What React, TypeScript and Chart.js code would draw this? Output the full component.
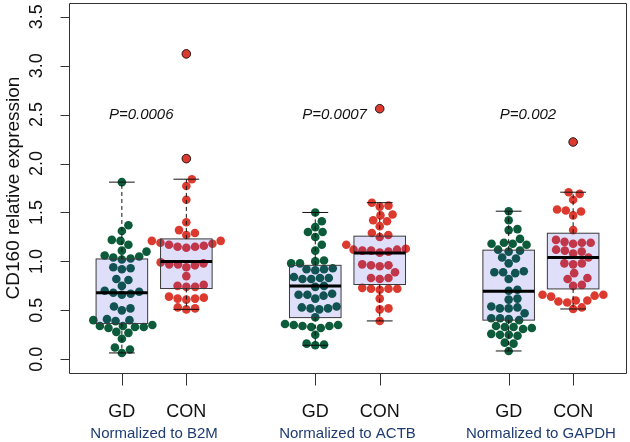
import React, { useEffect, useRef } from 'react';
import { Chart, registerables } from 'chart.js';

Chart.register(...registerables);

// ---------- data ----------
const groupPositions = [1, 2, 4, 5, 7, 8];
const groupNames = ['GD', 'CON', 'GD', 'CON', 'GD', 'CON'];
const normLabels = ['Normalized to B2M', 'Normalized to ACTB', 'Normalized to GAPDH'];
const normLabelX = [1.5, 4.5, 7.5];
const pLabels = ['P=0.0006', 'P=0.0007', 'P=0.002'];
const pLabelX = [1.3, 4.3, 7.3];
const pLabelY = 2.5;
const yTicks = [0, 0.5, 1, 1.5, 2, 2.5, 3, 3.5];
const yTickLabels = ['0.0', '0.5', '1.0', '1.5', '2.0', '2.5', '3.0', '3.5'];
const yTitle = 'CD160 relative expression';

const gdB2M = [1.81, 1.37, 1.31, 1.22, 1.21, 1.17, 1.11, 1.10, 1.06, 1.05, 1.04, 1.03, 1.02, 0.94, 0.93, 0.92, 0.82, 0.81, 0.75, 0.70, 0.69, 0.68, 0.67, 0.66, 0.54, 0.52, 0.50, 0.41, 0.40, 0.40, 0.39, 0.35, 0.34, 0.34, 0.33, 0.33, 0.32, 0.28, 0.27, 0.21, 0.12, 0.10, 0.065];
const conB2M = [3.12, 2.05, 1.84, 1.77, 1.63, 1.40, 1.32, 1.29, 1.27, 1.21, 1.21, 1.19, 1.18, 1.17, 1.16, 1.15, 1.15, 1.14, 0.99, 0.98, 0.97, 0.97, 0.96, 0.94, 0.85, 0.76, 0.75, 0.74, 0.74, 0.64, 0.63, 0.62, 0.62, 0.61, 0.53, 0.52, 0.51];
const gdACTB = [1.50, 1.41, 1.35, 1.30, 1.30, 1.25, 1.17, 1.11, 1.01, 1.00, 0.98, 0.98, 0.93, 0.92, 0.92, 0.91, 0.84, 0.83, 0.83, 0.82, 0.82, 0.75, 0.74, 0.67, 0.66, 0.66, 0.65, 0.62, 0.54, 0.53, 0.52, 0.52, 0.51, 0.43, 0.36, 0.35, 0.35, 0.34, 0.34, 0.33, 0.32, 0.25, 0.16, 0.15, 0.143];
const conACTB = [2.56, 1.60, 1.57, 1.56, 1.48, 1.47, 1.42, 1.41, 1.36, 1.29, 1.27, 1.25, 1.17, 1.13, 1.12, 1.12, 1.11, 1.11, 1.10, 1.09, 0.97, 0.96, 0.96, 0.95, 0.89, 0.83, 0.83, 0.82, 0.73, 0.72, 0.72, 0.72, 0.71, 0.62, 0.52, 0.51, 0.392];
const gdGAPDH = [1.513, 1.42, 1.33, 1.32, 1.23, 1.19, 1.18, 1.18, 1.17, 1.12, 1.11, 1.10, 1.04, 1.03, 0.98, 0.90, 0.89, 0.89, 0.88, 0.82, 0.71, 0.70, 0.62, 0.61, 0.54, 0.53, 0.52, 0.52, 0.47, 0.42, 0.42, 0.41, 0.40, 0.34, 0.33, 0.33, 0.32, 0.31, 0.26, 0.25, 0.25, 0.24, 0.17, 0.16, 0.085];
const conGAPDH = [2.22, 1.707, 1.69, 1.63, 1.53, 1.52, 1.51, 1.47, 1.32, 1.22, 1.20, 1.19, 1.19, 1.18, 1.12, 1.11, 1.10, 1.08, 1.04, 0.98, 0.98, 0.97, 0.88, 0.83, 0.82, 0.76, 0.75, 0.66, 0.66, 0.65, 0.64, 0.60, 0.60, 0.59, 0.58, 0.53, 0.514];

const seriesList = [gdB2M, conB2M, gdACTB, conACTB, gdGAPDH, conGAPDH];

// box statistics
const boxLow = [0.065, 0.51, 0.143, 0.392, 0.085, 0.514];
const boxQ1 = [0.365, 0.723, 0.426, 0.764, 0.40, 0.719];
const boxMed = [0.68, 1.0, 0.75, 1.087, 0.695, 1.04];
const boxQ3 = [1.025, 1.23, 0.96, 1.258, 1.115, 1.288];
const boxHigh = [1.81, 1.84, 1.50, 1.60, 1.513, 1.707];

// ---------- styles ----------
const GD_COLOR = '#0c5b3a';
const CON_COLOR = '#dc3a2f';
const BOX_FILL = 'rgba(40,40,220,0.15)';
const POINT_R = 4.3;
const SWARM_SPACING = 8.8;
const FONT = '"Liberation Sans", Arial, sans-serif';
const OY = 2; // canvas is shifted up by this many pixels

function swarm(pys: number[], d: number): number[] {
  const n = pys.length;
  const ys = pys.map((p) => p / d);
  const order = ys.map((_, i) => i).sort((a, b) => ys[b] - ys[a]);
  const xs: number[] = new Array(n).fill(0);
  const placed: number[] = [];
  for (const i of order) {
    const yi = ys[i];
    const near = placed.filter((j) => Math.abs(ys[j] - yi) < 1);
    const cands = [0];
    for (const j of near) {
      const dy = ys[j] - yi;
      const dx = Math.sqrt(Math.max(0, 1 - dy * dy));
      cands.push(xs[j] + dx, xs[j] - dx);
    }
    const valid = cands.filter((c) =>
      near.every((j) => {
        const dx = c - xs[j];
        const dy = ys[j] - yi;
        return dx * dx + dy * dy >= 0.999;
      })
    );
    let best = valid.length ? valid[0] : 0;
    for (const c of valid) if (Math.abs(c) < Math.abs(best) - 1e-9) best = c;
    xs[i] = best;
    placed.push(i);
  }
  return xs.map((x) => x * d);
}

const boxPlugin = {
  id: 'boxPlugin',
  afterDatasetsDraw(chart: any) {
    const ctx = chart.ctx;
    const xs = chart.scales.x;
    const ys = chart.scales.y;
    ctx.save();
    for (let k = 0; k < groupPositions.length; k++) {
      const pos = groupPositions[k];
      const cx = xs.getPixelForValue(pos);
      const half = xs.getPixelForValue(pos + 0.4) - cx;
      const stp = half / 2;
      const yq1 = ys.getPixelForValue(boxQ1[k]);
      const yq3 = ys.getPixelForValue(boxQ3[k]);
      const ymed = ys.getPixelForValue(boxMed[k]);
      const ylo = ys.getPixelForValue(boxLow[k]);
      const yhi = ys.getPixelForValue(boxHigh[k]);
      // box
      ctx.fillStyle = BOX_FILL;
      ctx.fillRect(cx - half, yq3, half * 2, yq1 - yq3);
      ctx.strokeStyle = '#3a3a3a';
      ctx.lineWidth = 1;
      ctx.setLineDash([]);
      ctx.strokeRect(cx - half, yq3, half * 2, yq1 - yq3);
      // whiskers
      ctx.strokeStyle = '#111';
      ctx.setLineDash([4, 3]);
      ctx.beginPath();
      ctx.moveTo(cx, yq3);
      ctx.lineTo(cx, yhi);
      ctx.moveTo(cx, yq1);
      ctx.lineTo(cx, ylo);
      ctx.stroke();
      ctx.setLineDash([]);
      ctx.beginPath();
      ctx.moveTo(cx - stp, yhi);
      ctx.lineTo(cx + stp, yhi);
      ctx.moveTo(cx - stp, ylo);
      ctx.lineTo(cx + stp, ylo);
      ctx.stroke();
      // median
      ctx.strokeStyle = '#000';
      ctx.lineWidth = 3;
      ctx.beginPath();
      ctx.moveTo(cx - half, ymed);
      ctx.lineTo(cx + half, ymed);
      ctx.stroke();
      // outliers
      const meta = chart.getDatasetMeta(k);
      const vals = seriesList[k];
      ctx.lineWidth = 1;
      for (let i = 0; i < vals.length; i++) {
        if (vals[i] > boxHigh[k] + 1e-6 || vals[i] < boxLow[k] - 1e-6) {
          const el = meta.data[i];
          if (!el) continue;
          ctx.beginPath();
          ctx.arc(el.x, el.y, POINT_R, 0, Math.PI * 2);
          ctx.fillStyle = k % 2 === 0 ? GD_COLOR : CON_COLOR;
          ctx.fill();
          ctx.strokeStyle = '#222';
          ctx.stroke();
        }
      }
    }
    ctx.restore();
  },
  afterDraw(chart: any) {
    const ctx = chart.ctx;
    const xs = chart.scales.x;
    const ys = chart.scales.y;
    const { left, right, top, bottom } = chart.chartArea;
    ctx.save();
    ctx.strokeStyle = '#333';
    ctx.lineWidth = 1;
    ctx.setLineDash([]);
    const L = Math.round(left) + 0.5;
    const R = Math.round(right) + 0.5;
    const T = Math.round(top) + 0.5;
    const B = Math.round(bottom) + 0.5;
    ctx.beginPath();
    ctx.rect(L, T, R - L, B - T);
    ctx.stroke();

    // y ticks
    ctx.fillStyle = '#111';
    ctx.font = `18px ${FONT}`;
    for (let i = 0; i < yTicks.length; i++) {
      const py = Math.round(ys.getPixelForValue(yTicks[i])) + 0.5;
      ctx.beginPath();
      ctx.moveTo(L, py);
      ctx.lineTo(L - 9, py);
      ctx.stroke();
      ctx.save();
      ctx.translate(left - 27.5, ys.getPixelForValue(yTicks[i]));
      ctx.rotate(-Math.PI / 2);
      ctx.textAlign = 'center';
      ctx.textBaseline = 'alphabetic';
      ctx.fillText(yTickLabels[i], 0, 0);
      ctx.restore();
    }
    // y title
    ctx.save();
    ctx.font = `19px ${FONT}`;
    ctx.translate(18.5, (top + bottom) / 2);
    ctx.rotate(-Math.PI / 2);
    ctx.textAlign = 'center';
    ctx.textBaseline = 'alphabetic';
    ctx.fillText(yTitle, 0, 0);
    ctx.restore();

    // x ticks and labels
    ctx.font = `18px ${FONT}`;
    ctx.textAlign = 'center';
    ctx.textBaseline = 'alphabetic';
    for (let k = 0; k < groupPositions.length; k++) {
      const px = Math.round(xs.getPixelForValue(groupPositions[k])) + 0.5;
      ctx.beginPath();
      ctx.moveTo(px, B);
      ctx.lineTo(px, B + 12);
      ctx.stroke();
      ctx.fillText(groupNames[k], xs.getPixelForValue(groupPositions[k]), 416.7 + OY);
    }
    ctx.font = `15px ${FONT}`;
    ctx.fillStyle = '#1f3b73';
    for (let g = 0; g < normLabels.length; g++) {
      ctx.fillText(normLabels[g], xs.getPixelForValue(normLabelX[g]), 438.3 + OY);
    }
    // p-values
    ctx.fillStyle = '#111';
    ctx.font = `italic 15px ${FONT}`;
    ctx.textBaseline = 'middle';
    for (let g = 0; g < pLabels.length; g++) {
      ctx.fillText(pLabels[g], xs.getPixelForValue(pLabelX[g]), ys.getPixelForValue(pLabelY));
    }
    ctx.restore();
  },
};

export default function App() {
  const ref = useRef<HTMLCanvasElement | null>(null);
  useEffect(() => {
    if (!ref.current) return;
    const chart = new Chart(ref.current, {
      type: 'scatter',
      data: {
        datasets: seriesList.map((vals, k) => ({
          label: groupNames[k],
          data: vals.map((v) => ({ x: groupPositions[k], y: v })),
          pointRadius: POINT_R,
          pointHoverRadius: POINT_R,
          pointBorderWidth: 0,
          pointBackgroundColor: k % 2 === 0 ? GD_COLOR : CON_COLOR,
          pointBorderColor: k % 2 === 0 ? GD_COLOR : CON_COLOR,
        })),
      },
      options: {
        animation: false,
        responsive: false,
        maintainAspectRatio: false,
        events: [],
        layout: { padding: { left: 69, right: 5, top: 5, bottom: 69 } },
        plugins: { legend: { display: false }, tooltip: { enabled: false } },
        scales: {
          x: { type: 'linear', min: 0.18, max: 8.82, display: false },
          y: { type: 'linear', min: -0.14, max: 3.64, display: false },
        },
      },
      plugins: [boxPlugin],
    });
    const xs: any = chart.scales.x;
    const ys: any = chart.scales.y;
    chart.data.datasets.forEach((ds: any, k: number) => {
      const vals = seriesList[k];
      const pys = vals.map((v) => ys.getPixelForValue(v));
      const offs = swarm(pys, SWARM_SPACING);
      const cx = xs.getPixelForValue(groupPositions[k]);
      ds.data = vals.map((v, i) => ({ x: xs.getValueForPixel(cx + offs[i]), y: v }));
    });
    chart.update('none');
    return () => chart.destroy();
  }, []);
  return (
    <div style={{ position: 'fixed', left: 0, top: -OY, width: 631, height: 444 }}>
      <canvas ref={ref} width={631} height={444} style={{ display: 'block', width: 631, height: 444 }} />
    </div>
  );
}
